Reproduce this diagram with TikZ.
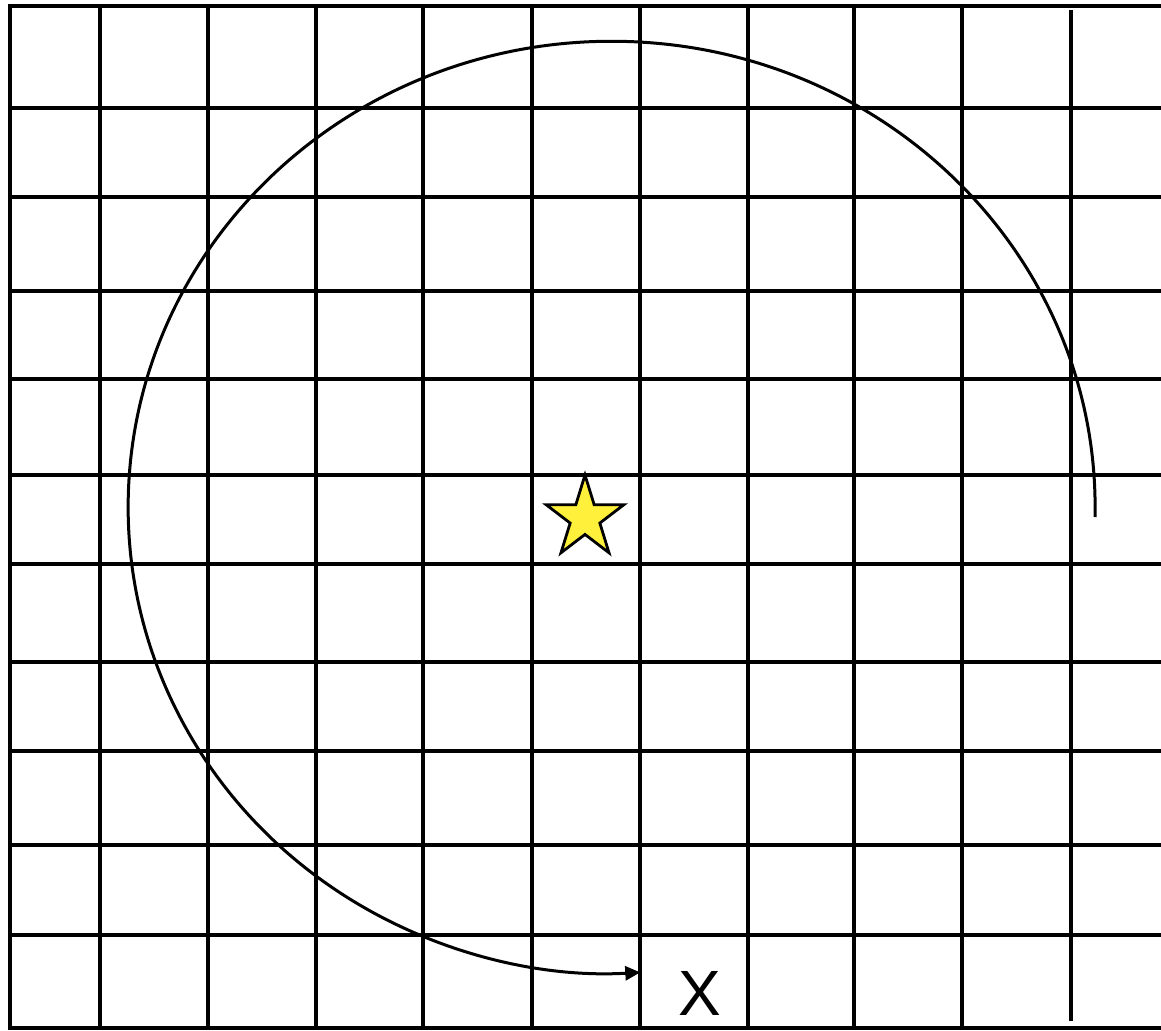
\documentclass[tikz,border=0pt]{standalone}
\usepackage{fontspec}
\setmainfont{Liberation Sans}
\usetikzlibrary{shapes.geometric,arrows.meta}
\definecolor{staryellow}{RGB}{255,240,60}
\tikzset{
  gridline/.style={line width=3.3pt, black},
  orbit/.style={line width=3pt, black},
  starshape/.style={star, star points=5, star point ratio=2.618, minimum size=86pt, inner sep=0pt, draw=black, line width=2.8pt, fill=staryellow},
  xlabel/.style={font=\fontsize{64}{64}\selectfont, inner sep=0pt}
}
\begin{document}
\begin{tikzpicture}[x=1pt,y=-1pt]
\useasboundingbox (0,0) rectangle (1161,1030);
\fill[white] (0,0) rectangle (1161,1030);
% horizontal lines
\foreach \yy in {6,108,197,291,379,475,564,662,751,845,935,1028}
  \draw[gridline] (10,\yy) -- (1161,\yy);
% vertical lines
\foreach \xx in {10,100,208,316,423,532,640,748,854,962}
  \draw[gridline] (\xx,4.4) -- (\xx,1030);
\draw[gridline] (1071,10) -- (1071,1021);
% orbit arc
\coordinate (astart) at (1095,517);
\draw[orbit, -{Triangle[length=15pt,width=14pt]}] (astart) arc[x radius=483.5, y radius=466, start angle=1.2, end angle=-273.4];
% star
\node[starshape, xscale=0.95] (st) at (585,518) {};
% label
\node[xlabel] (lbl) at (700,993) {X};
\end{tikzpicture}
\end{document}
